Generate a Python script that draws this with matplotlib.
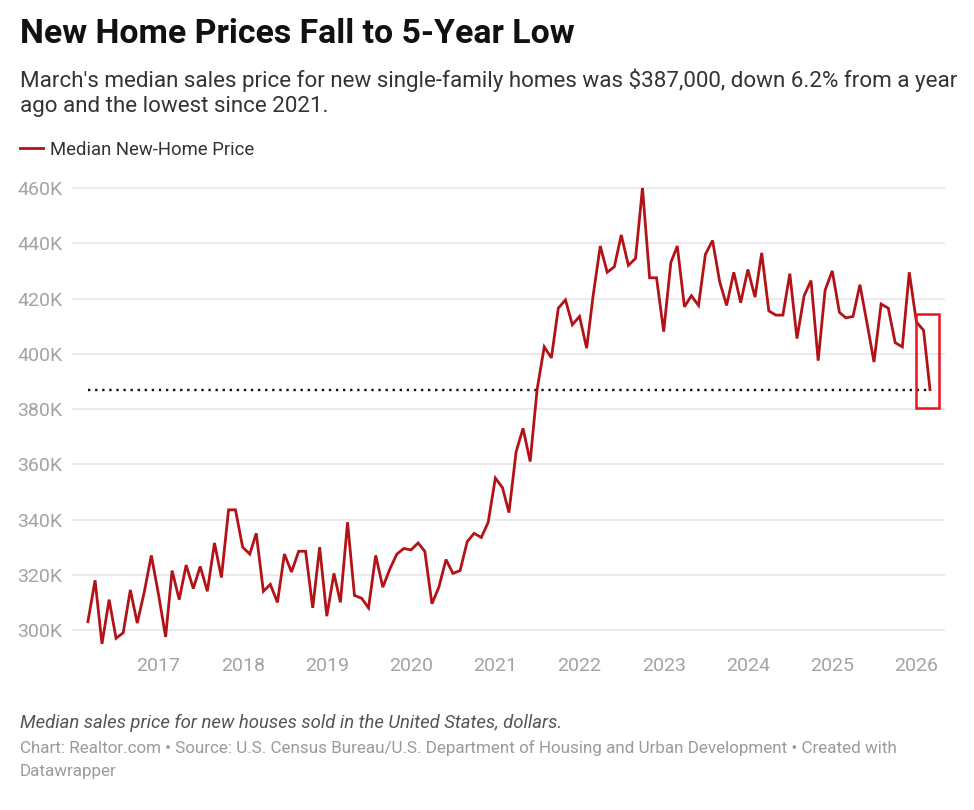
import matplotlib
matplotlib.use("Agg")
import matplotlib.pyplot as plt
from matplotlib.patches import Rectangle
import matplotlib.dates as mdates
import pandas as pd

plt.rcParams['font.family'] = ['Roboto', 'DejaVu Sans']

# Median new-home price, monthly, Mar 2016 - Mar 2026 (thousands of dollars)
months = pd.date_range('2016-03-01', periods=121, freq='MS')
prices = [
    303, 318, 295, 311, 297, 299, 314.5, 302.5, 314, 327,          # 2016
    313, 297.5, 321.5, 311, 323.5, 315, 323, 314, 331.5, 319, 343.5, 343.5,  # 2017
    330, 327.5, 335, 314, 316.5, 310, 327.5, 321, 328.5, 328.5, 308, 330,    # 2018
    305, 320.5, 310, 339, 312.5, 311.5, 308, 327, 315.5, 322, 327.5, 329.5,  # 2019
    329, 331.5, 328.5, 309.5, 315.5, 325.5, 320.5, 321.5, 332, 335, 333.5, 339,  # 2020
    355, 351.5, 342.5, 364.5, 373, 361, 387, 402.5, 398.5, 416.5, 419.5, 410.5,  # 2021
    413.5, 402, 421, 439, 429.5, 431.5, 443, 432, 434.5, 460, 427.5, 427.5,  # 2022
    408, 433, 439, 417, 421, 417.5, 436, 441, 426, 417.5, 429.5, 418.5,      # 2023
    430.5, 420.5, 436.5, 415.5, 414, 414, 429, 405.5, 421, 426.5, 397.5, 423,  # 2024
    430, 415, 413, 413.5, 425, 411, 397, 418, 416.5, 404, 402.5, 429.5,      # 2025
    411.5, 408.5, 387,                                                     # 2026
]
march_value = 387
year_ticks = pd.date_range('2017-01-01', periods=10, freq='YS')
y_ticks = [300, 320, 340, 360, 380, 400, 420, 440, 460]

W, H = 974, 810
fig = plt.figure(figsize=(W / 100, H / 100), dpi=100)

# axes placed in pixel terms
left, right, top, bottom = 72, 945, 180, 650
ax = fig.add_axes([left / W, 1 - bottom / H, (right - left) / W, (bottom - top) / H])

ax.plot(months, prices, color='#b31217', lw=2.0, solid_joinstyle='miter', zorder=3)
ax.plot([months[0], months[-1]], [march_value, march_value], color='#111111',
        lw=1.7, ls=(0, (1, 2.0)), zorder=2)

ax.set_ylim(292.76, 462.9)
ax.set_xlim(pd.Timestamp('2015-12-23'), pd.Timestamp('2026-05-05'))
ax.set_yticks(y_ticks)
ax.set_yticklabels([f'{v}K' for v in y_ticks])
ax.set_xticks(year_ticks)
ax.xaxis.set_major_formatter(mdates.DateFormatter('%Y'))
ax.grid(axis='y', color='#e8e8e8', lw=1.2, zorder=0)
ax.tick_params(axis='both', length=0, labelsize=14, labelcolor='#a3a3a3')
ax.tick_params(axis='y', pad=7)
ax.tick_params(axis='x', pad=5)
for s in ax.spines.values():
    s.set_visible(False)

# red highlight box around the latest drop
x0 = mdates.date2num(pd.Timestamp('2025-12-29'))
x1 = mdates.date2num(pd.Timestamp('2026-04-08'))
ax.add_patch(Rectangle((x0, 380.5), x1 - x0, 33.8, fill=False, ec='#e8131b',
                       lw=1.8, zorder=4, clip_on=False))

# texts
fig.text(20 / W, 1 - 43 / H, 'New Home Prices Fall to 5-Year Low', fontsize=24.4,
         fontweight='bold', color='#111111', va='baseline')
fig.text(20 / W, 1 - 87 / H,
         "March's median sales price for new single-family homes was $387,000, down 6.2% from a year",
         fontsize=16.1, color='#333333', va='baseline')
fig.text(20 / W, 1 - 112 / H, 'ago and the lowest since 2021.', fontsize=16.1,
         color='#333333', va='baseline')

fig.lines.append(plt.Line2D([20 / W, 43 / W], [1 - 148 / H, 1 - 148 / H],
                            color='#b31217', lw=2, transform=fig.transFigure))
fig.text(50 / W, 1 - 155 / H, 'Median New-Home Price', fontsize=13.3,
         color='#333333', va='baseline')

fig.text(20 / W, 1 - 728 / H,
         'Median sales price for new houses sold in the United States, dollars.',
         fontsize=13.3, style='italic', color='#555555', va='baseline')
fig.text(20 / W, 1 - 753 / H,
         'Chart: Realtor.com \u2022 Source: U.S. Census Bureau/U.S. Department of Housing and Urban Development \u2022 Created with',
         fontsize=12.25, color='#9a9a9a', va='baseline')
fig.text(20 / W, 1 - 776 / H, 'Datawrapper', fontsize=12.25, color='#9a9a9a',
         va='baseline')

fig.savefig('out.png', dpi=100, facecolor='white')
